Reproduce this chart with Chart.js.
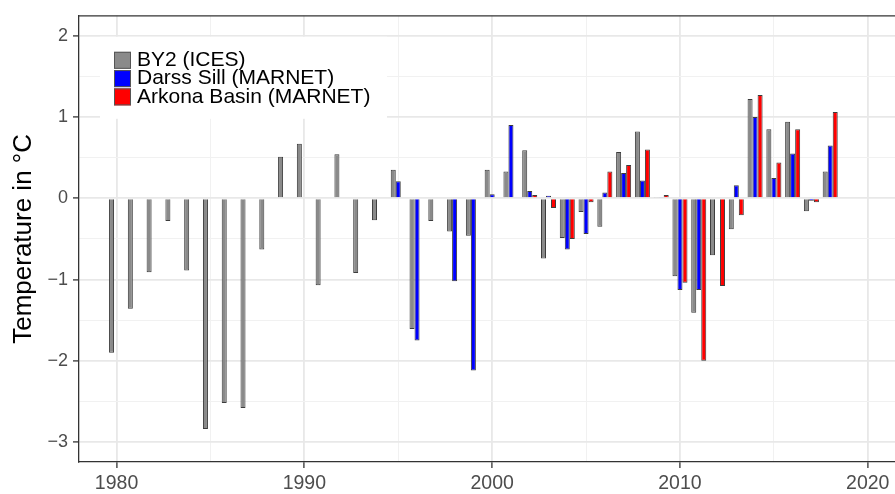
<!DOCTYPE html>
<html>
<head>
<meta charset="utf-8">
<script src="https://cdn.jsdelivr.net/npm/chart.js@4/dist/chart.umd.min.js"></script>
<style>
html, body { margin: 0; padding: 0; background: #fff; }
canvas { display: block; }
</style>
</head>
<body>
<canvas id="bar-chart_temp" width="895" height="494"></canvas>
<script>
// years on the x axis
const years = [1980, 1981, 1982, 1983, 1984, 1985, 1986, 1987, 1988, 1989,
               1990, 1991, 1992, 1993, 1994, 1995, 1996, 1997, 1998, 1999,
               2000, 2001, 2002, 2003, 2004, 2005, 2006, 2007, 2008, 2009,
               2010, 2011, 2012, 2013, 2014, 2015, 2016, 2017, 2018];

// temperature anomaly (°C), one value per year, null = no data
const by2 = [-1.90, -1.36, -0.91, -0.28, -0.89, -2.84, -2.52, -2.58, -0.63, 0.51,
             0.67, -1.07, 0.54, -0.92, -0.27, 0.35, -1.61, -0.28, -0.41, -0.46,
             0.35, 0.33, 0.59, -0.74, -0.49, -0.17, -0.35, 0.57, 0.82, 0.01,
             -0.96, -1.41, -0.70, -0.38, 1.22, 0.85, 0.94, -0.16, 0.33];
const darssSill = [null, null, null, null, null, null, null, null, null, null,
                   null, null, null, null, null, 0.21, -1.75, null, -1.02, -2.12,
                   0.05, 0.90, 0.09, 0.03, -0.63, -0.44, 0.07, 0.31, 0.22, 0.01,
                   -1.13, -1.13, null, 0.16, 1.00, 0.25, 0.55, -0.03, 0.65];
const arkonaBasin = [null, null, null, null, null, null, null, null, null, null,
                     null, null, null, null, null, null, null, null, null, null,
                     null, null, 0.04, -0.12, -0.50, -0.05, 0.33, 0.41, 0.60, 0.04,
                     -1.04, -2.00, -1.08, -0.21, 1.27, 0.44, 0.85, -0.05, 1.06];

const seriesNames = ["BY2 (ICES)", "Darss Sill (MARNET)", "Arkona Basin (MARNET)"];
const xTickLabels = [1980, 1990, 2000, 2010, 2020];
const yTickLabels = [-3, -2, -1, 0, 1, 2];

const FONT = "'Liberation Sans', Arial, Helvetica, sans-serif";

function toPoints(values) {
    return years.map((yr, i) => ({x: yr, y: values[i]}));
}

// major = labelled tick, minor = the halfway gridlines
function isMajor(c, list) {
    return !!(c && c.tick && list.includes(c.tick.value));
}

// legend drawn inside the panel, on a white box over the grid
const insideLegend = {
    id: 'insideLegend',
    beforeDatasetsDraw(chart) {
        const ctx = chart.ctx;
        const a = chart.chartArea;
        const x0 = a.left + 21, y0 = a.top + 21;
        ctx.save();
        ctx.fillStyle = '#ffffff';
        ctx.fillRect(x0, y0, 287, 82);
        ctx.font = '21px ' + FONT;
        ctx.textBaseline = 'middle';
        ctx.textAlign = 'left';
        chart.data.datasets.forEach((ds, i) => {
            const ky = y0 + 15 + i * 18.3;
            ctx.fillStyle = ds.backgroundColor;
            ctx.fillRect(x0 + 14, ky, 17, 17);
            ctx.strokeStyle = '#555555';
            ctx.lineWidth = 1;
            ctx.strokeRect(x0 + 14.5, ky + 0.5, 16, 16);
            ctx.fillStyle = '#000000';
            ctx.fillText(ds.label, x0 + 37, ky + 8.5);
        });
        ctx.restore();
    }
};

// top edge of the panel border
const topBorder = {
    id: 'topBorder',
    afterDraw(chart) {
        const ctx = chart.ctx;
        const a = chart.chartArea;
        ctx.save();
        ctx.strokeStyle = '#333333';
        ctx.lineWidth = 1.3;
        ctx.beginPath();
        ctx.moveTo(a.left, a.top);
        ctx.lineTo(a.right, a.top);
        ctx.stroke();
        ctx.restore();
    }
};

const temp_chart = new Chart(document.getElementById("bar-chart_temp"), {
    type: 'bar',
    data: {
        datasets: [{
            label: seriesNames[0],
            data: toPoints(by2),
            backgroundColor: '#8a8a8a',
            borderColor: '#3c3c3c',
            borderWidth: 1
        }, {
            label: seriesNames[1],
            data: toPoints(darssSill),
            backgroundColor: '#0000ff',
            borderColor: '#3c3c3c',
            borderWidth: 1
        }, {
            label: seriesNames[2],
            data: toPoints(arkonaBasin),
            backgroundColor: '#ff0000',
            borderColor: '#3c3c3c',
            borderWidth: 1
        }]
    },
    options: {
        responsive: false,
        animation: false,
        devicePixelRatio: 1,
        categoryPercentage: 0.8,
        barPercentage: 1.0,
        layout: {
            padding: {top: 12, right: 0, left: 0, bottom: 0}
        },
        plugins: {
            legend: {display: false},
            tooltip: {enabled: false}
        },
        scales: {
            x: {
                type: 'linear',
                min: 1978,
                max: 2021.45,
                offset: false,
                afterFit(scale) { scale.height = 32; },
                ticks: {
                    stepSize: 5,
                    includeBounds: false,
                    autoSkip: false,
                    maxRotation: 0,
                    padding: 4,
                    color: '#4d4d4d',
                    font: {family: FONT, size: 19.5},
                    callback: v => xTickLabels.includes(v) ? String(v) : ''
                },
                grid: {
                    offset: false,
                    color: c => isMajor(c, xTickLabels) ? '#e8e8e8' : '#f1f1f1',
                    lineWidth: c => isMajor(c, xTickLabels) ? 1.8 : 1,
                    tickColor: c => isMajor(c, xTickLabels) ? '#333333' : 'rgba(0,0,0,0)',
                    tickLength: 6,
                    tickWidth: 1.3
                },
                border: {display: true, color: '#333333', width: 1.3}
            },
            y: {
                min: -3.245,
                max: 2.245,
                afterFit(scale) { scale.width = 79; },
                title: {
                    display: true,
                    text: 'Temperature in °C',
                    color: '#000000',
                    font: {family: FONT, size: 26},
                    padding: {top: 8, bottom: 0}
                },
                ticks: {
                    stepSize: 0.5,
                    includeBounds: false,
                    autoSkip: false,
                    padding: 5,
                    color: '#4d4d4d',
                    font: {family: FONT, size: 18},
                    callback: v => yTickLabels.includes(v) ? (v < 0 ? '\u2212' + Math.abs(v) : String(v)) : ''
                },
                grid: {
                    color: c => isMajor(c, yTickLabels) ? '#e8e8e8' : '#f1f1f1',
                    lineWidth: c => isMajor(c, yTickLabels) ? 1.8 : 1,
                    tickColor: c => isMajor(c, yTickLabels) ? '#333333' : 'rgba(0,0,0,0)',
                    tickLength: 6,
                    tickWidth: 1.3
                },
                border: {display: true, color: '#333333', width: 1.3}
            }
        }
    },
    plugins: [insideLegend, topBorder]
});
</script>
</body>
</html>
